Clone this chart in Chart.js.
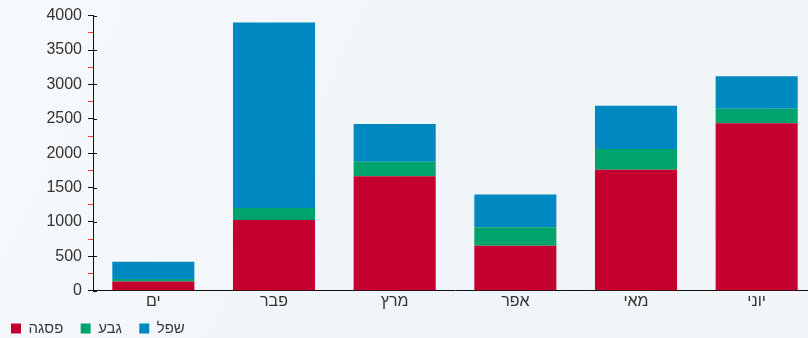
<!DOCTYPE html>
<html lang="he">
<head>
<meta charset="utf-8">
<script src="https://cdn.jsdelivr.net/npm/chart.js@4"></script>
<style>
  html, body { margin: 0; padding: 0; }
  body {
    width: 808px; height: 338px; overflow: hidden;
    background: linear-gradient(115deg, #f7fafc 0%, #f3f7fa 30%, #eef4f7 60%, #f2f6f9 100%);
  }
  #wrap { position: relative; width: 817px; height: 346px; }
</style>
</head>
<body>
<div id="wrap"><canvas id="chart"></canvas></div>
<script>
// Months (x axis)
const months = ['ים', 'פבר', 'מרץ', 'אפר', 'מאי', 'יוני'];

// Series, bottom to top of each stack
const peakValues = [136, 1030, 1665, 655, 1760, 2435];   // פסגה
const shoulderValues = [35, 175, 210, 270, 300, 210];     // גבע
const lowValues = [252, 2695, 550, 475, 630, 475];        // שפל

const seriesNames = ['פסגה', 'גבע', 'שפל'];
const seriesColors = ['#c3002f', '#00a36b', '#0088c0'];

const yMax = 4000;
const yStep = 250;

// Small stub of the major ticks on the right side of the y axis
const axisStubs = {
    id: 'axisStubs',
    afterDraw(chart) {
        const y = chart.scales.y;
        const ctx = chart.ctx;
        ctx.save();
        ctx.strokeStyle = '#111';
        ctx.lineWidth = 1;
        y.ticks.forEach(t => {
            if (t.value % 500 !== 0) return;
            const py = Math.round(y.getPixelForValue(t.value)) + 0.5;
            ctx.beginPath();
            ctx.moveTo(y.right, py);
            ctx.lineTo(y.right + 4, py);
            ctx.stroke();
        });
        ctx.restore();
    }
};

function makeDataset(i, values) {
    return {
        label: seriesNames[i],
        data: values,
        backgroundColor: seriesColors[i],
        borderWidth: 0,
        barPercentage: 0.68,
        categoryPercentage: 1.0
    };
}

document.addEventListener('DOMContentLoaded', function() {
    const ctx = document.getElementById('chart').getContext('2d');
    new Chart(ctx, {
        type: 'bar',
        data: {
            labels: months,
            datasets: [
                makeDataset(0, peakValues),
                makeDataset(1, shoulderValues),
                makeDataset(2, lowValues)
            ]
        },
        options: {
            responsive: true,
            maintainAspectRatio: false,
            animation: false,
            layout: { padding: { top: 8, left: 2, right: 0, bottom: 0 } },
            plugins: {
                tooltip: { enabled: false },
                legend: {
                    position: 'bottom',
                    align: 'start',
                    labels: {
                        boxWidth: 10,
                        boxHeight: 10,
                        padding: 9,
                        color: '#3a3a3a',
                        font: { family: 'Liberation Sans, Arial, sans-serif', size: 15 },
                        generateLabels: chart => {
                            const items = Chart.defaults.plugins.legend.labels.generateLabels(chart);
                            items.forEach(it => { it.text = it.text + '\u00a0\u00a0'; });
                            return items;
                        }
                    }
                }
            },
            scales: {
                x: {
                    stacked: true,
                    border: { display: true, color: '#111', width: 1 },
                    grid: { display: false, drawTicks: false },
                    ticks: {
                        color: '#333',
                        padding: 1,
                        font: { family: 'Liberation Sans, Arial, sans-serif', size: 16 }
                    }
                },
                y: {
                    stacked: true,
                    min: 0,
                    max: yMax,
                    afterFit: s => { s.width = 91; },
                    border: { display: true, color: '#111', width: 1 },
                    grid: {
                        drawOnChartArea: false,
                        drawTicks: true,
                        tickLength: 5,
                        tickColor: c => (c.tick && c.tick.value % 500 !== 0) ? '#ff3b3b' : '#111'
                    },
                    ticks: {
                        stepSize: yStep,
                        autoSkip: false,
                        color: '#333',
                        padding: 6,
                        font: { family: 'Liberation Sans, Arial, sans-serif', size: 16 },
                        callback: v => (v % 500 === 0 ? v : '')
                    }
                }
            }
        },
        plugins: [axisStubs]
    });
});
</script>
</body>
</html>
